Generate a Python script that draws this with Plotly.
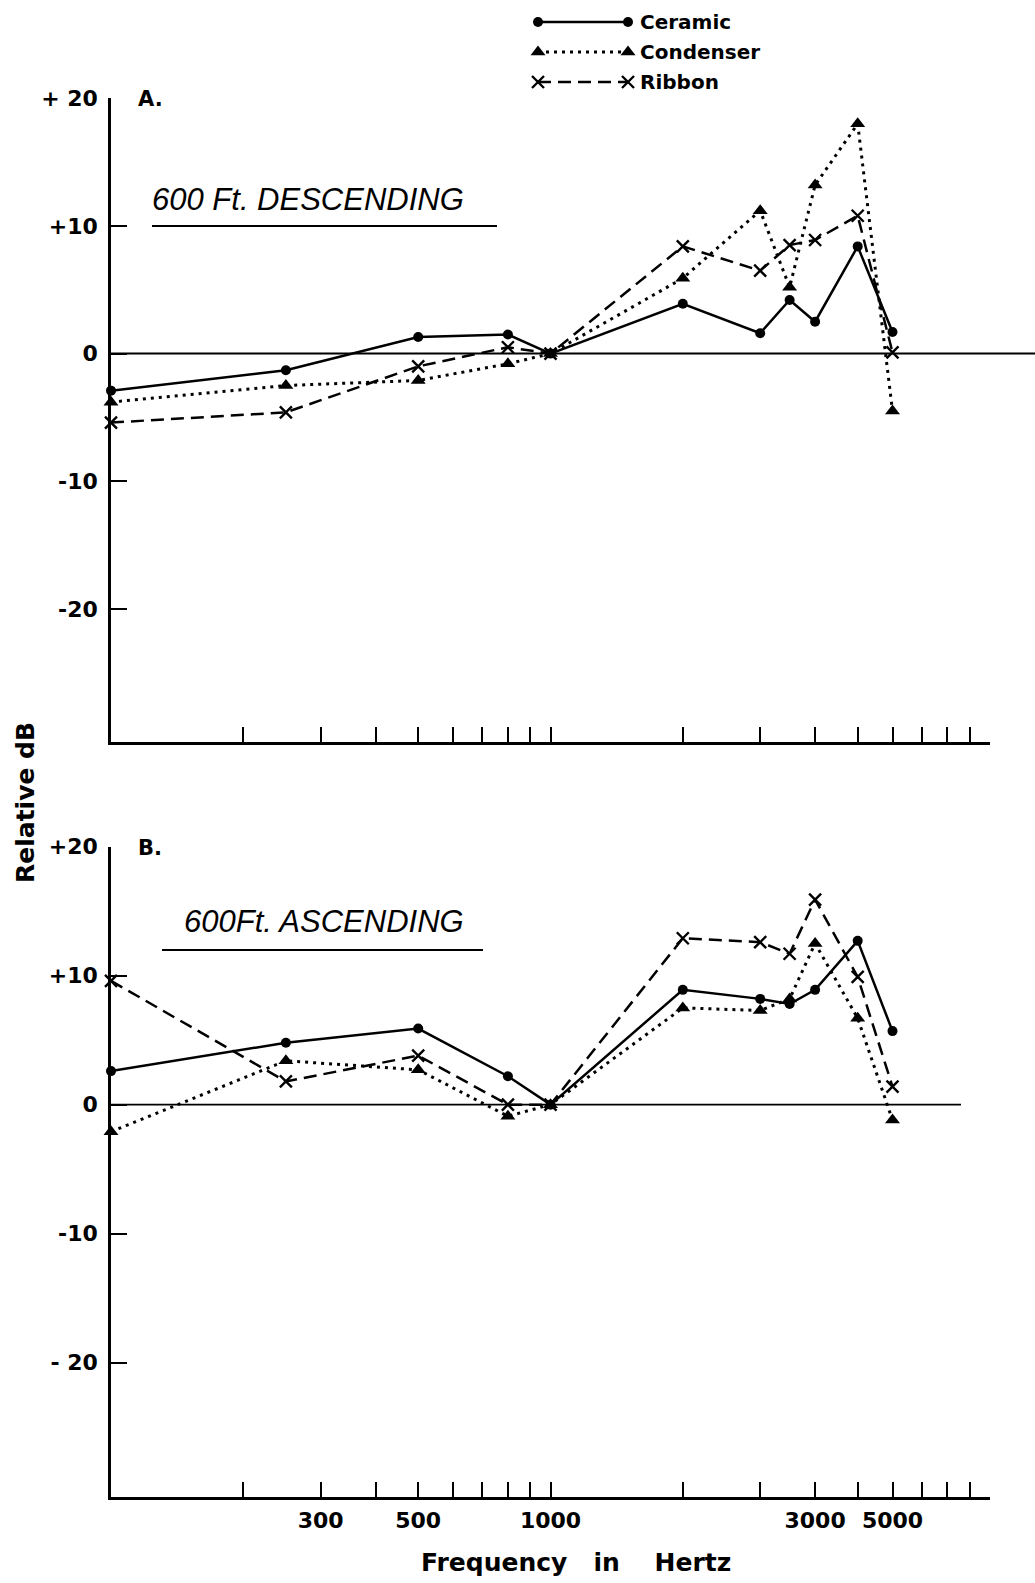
import plotly.graph_objects as go

# ---------------- data ----------------
freq_hz = [100, 250, 500, 800, 1000, 2000, 3000, 3500, 4000, 5000, 6000]

# Panel A: 600 Ft. DESCENDING (relative dB)
a_ceramic   = [-2.9, -1.3, 1.3, 1.5, 0, 3.9, 1.6, 4.2, 2.5, 8.4, 1.7]
a_condenser = [-3.8, -2.5, -2.1, -0.8, 0, 5.9, 11.2, 5.2, 13.2, 18.0, -4.5]
a_ribbon    = [-5.4, -4.6, -1.0, 0.5, 0, 8.4, 6.5, 8.5, 8.9, 10.8, 0.1]

# Panel B: 600 Ft. ASCENDING (relative dB)
b_ceramic   = [2.6, 4.8, 5.9, 2.2, 0, 8.9, 8.2, 7.8, 8.9, 12.7, 5.7]
b_condenser = [-2.1, 3.4, 2.7, -0.9, 0, 7.5, 7.3, 8.2, 12.5, 6.7, -1.2]
b_ribbon    = [9.6, 1.8, 3.8, 0.0, 0, 12.9, 12.6, 11.7, 15.9, 9.9, 1.4]

series_names = ["Ceramic", "Condenser", "Ribbon"]

# x ticks (log grid) and labels as printed on the original figure
x_tickvals = [200, 300, 400, 500, 600, 700, 800, 900, 1000,
              2000, 3000, 4000, 5000, 6000, 7000, 8000, 9000, 10000]
x_ticktext = ["", "300", "", "500", "", "", "", "", "1000",
              "", "", "3000", "", "5000", "", "", "", ""]
y_tickvals = [-20, -10, 0, 10, 20]
a_yticktext = ["-20", "-10", "0", "+10", "+ 20"]
b_yticktext = ["- 20", "-10", "0", "+10", "+20"]

# ---------------- layout helpers ----------------
W, H = 1035, 1583
def px(x):
    return x / W
def py(y):
    return 1 - y / H

styles = {
    "Ceramic":   dict(line=dict(color="black", width=2.5, dash="solid"),
                      marker=dict(symbol="circle", size=10, color="black")),
    "Condenser": dict(line=dict(color="black", width=3, dash="3px,5px"),
                      marker=dict(symbol="triangle-up", size=13, color="black")),
    "Ribbon":    dict(line=dict(color="black", width=2.5, dash="13px,7px"),
                      marker=dict(symbol="x-thin-open", size=12, color="black",
                                  line=dict(width=2.4, color="black"))),
}

fig = go.Figure()

panel_data = [
    ("x", "y", [a_ceramic, a_condenser, a_ribbon]),
    ("x2", "y2", [b_ceramic, b_condenser, b_ribbon]),
]
for xa, ya, sets in panel_data:
    for name, vals in zip(series_names, sets):
        st = styles[name]
        fig.add_trace(go.Scatter(
            x=freq_hz, y=vals, mode="lines+markers", name=name,
            line=st["line"], marker=st["marker"], xaxis=xa, yaxis=ya,
            showlegend=False, cliponaxis=False))

# custom legend (sample line with a marker at each end)
for i, name in enumerate(series_names):
    st = styles[name]
    yv = 2.5 - i
    fig.add_trace(go.Scatter(
        x=[0, 1], y=[yv, yv], mode="lines+markers",
        line=st["line"], marker=st["marker"], xaxis="x3", yaxis="y3",
        showlegend=False, cliponaxis=False, hoverinfo="skip"))

tick_font = dict(family="DejaVu Sans", size=22, color="black", weight="bold")
xdom = [px(111), px(990)]
common_x = dict(type="log", range=[2, 4], domain=xdom, showline=True,
                linecolor="black", linewidth=2.5, ticks="inside", ticklen=15,
                tickwidth=2, tickcolor="black", tickvals=x_tickvals,
                showgrid=False, zeroline=False, automargin=False,
                tickfont=dict(family="DejaVu Sans", size=22, color="black", weight="bold"))
common_y = dict(range=[-30.4, 20], showline=True, linecolor="black", linewidth=2.5,
                ticks="inside", ticklen=16, tickwidth=2, tickcolor="black",
                tickvals=y_tickvals, showgrid=False, zeroline=False, automargin=False,
                tickfont=tick_font, ticklabelstandoff=6)

fig.update_layout(
    width=W, height=H,
    margin=dict(l=0, r=0, t=0, b=0, pad=0, autoexpand=False),
    paper_bgcolor="white", plot_bgcolor="rgba(0,0,0,0)",
    showlegend=False,
    xaxis=dict(**common_x, anchor="y", showticklabels=False),
    yaxis=dict(**common_y, anchor="x", domain=[py(741.7), py(98.3)], ticktext=a_yticktext),
    xaxis2=dict(**common_x, anchor="y2", ticktext=x_ticktext, ticklabelstandoff=2),
    yaxis2=dict(**common_y, anchor="x2", domain=[py(1496.7), py(846.7)], ticktext=b_yticktext),
    xaxis3=dict(domain=[px(538), px(628)], range=[0, 1], visible=False, anchor="y3"),
    yaxis3=dict(domain=[py(97), py(7)], range=[0, 3], visible=False, anchor="x3"),
)

shapes = [
    # zero reference lines
    dict(type="line", xref="paper", yref="y", x0=px(111), x1=1.0, y0=0, y1=0,
         line=dict(color="black", width=2)),
    dict(type="line", xref="paper", yref="y2", x0=px(111), x1=px(961), y0=0, y1=0,
         line=dict(color="black", width=1.6)),
    # title underlines
    dict(type="line", xref="paper", yref="paper", x0=px(152), x1=px(497),
         y0=py(226), y1=py(226), line=dict(color="black", width=2.2)),
    dict(type="line", xref="paper", yref="paper", x0=px(162), x1=px(483),
         y0=py(950), y1=py(950), line=dict(color="black", width=2.2)),
]
fig.update_layout(shapes=shapes)

bold = dict(family="DejaVu Sans", color="black", weight="bold")
title_font = dict(family="Liberation Sans", size=31, color="black", style="italic")
annotations = [
    dict(text="A.", x=px(136), y=py(99), xanchor="left", yanchor="middle",
         font=dict(**bold, size=21)),
    dict(text="B.", x=px(136), y=py(848), xanchor="left", yanchor="middle",
         font=dict(**bold, size=21)),
    dict(text="600 Ft. DESCENDING", x=px(150), y=py(200), xanchor="left",
         yanchor="middle", font=title_font),
    dict(text="600Ft. ASCENDING", x=px(182), y=py(921), xanchor="left",
         yanchor="middle", font=title_font),
    dict(text="Relative dB", x=px(25), y=py(803), xanchor="center", yanchor="middle",
         textangle=-90, font=dict(**bold, size=25)),
    dict(text="Frequency\u00a0\u00a0\u00a0in\u00a0\u00a0\u00a0\u00a0Hertz", x=px(576),
         y=py(1562), xanchor="center", yanchor="middle", font=dict(**bold, size=25)),
]
for i, name in enumerate(series_names):
    annotations.append(dict(text=name, x=px(638), y=py(22 + 30 * i), xanchor="left",
                            yanchor="middle", font=dict(**bold, size=20)))
for a in annotations:
    a.update(xref="paper", yref="paper", showarrow=False)
fig.update_layout(annotations=annotations)

fig.write_html("out.html")
